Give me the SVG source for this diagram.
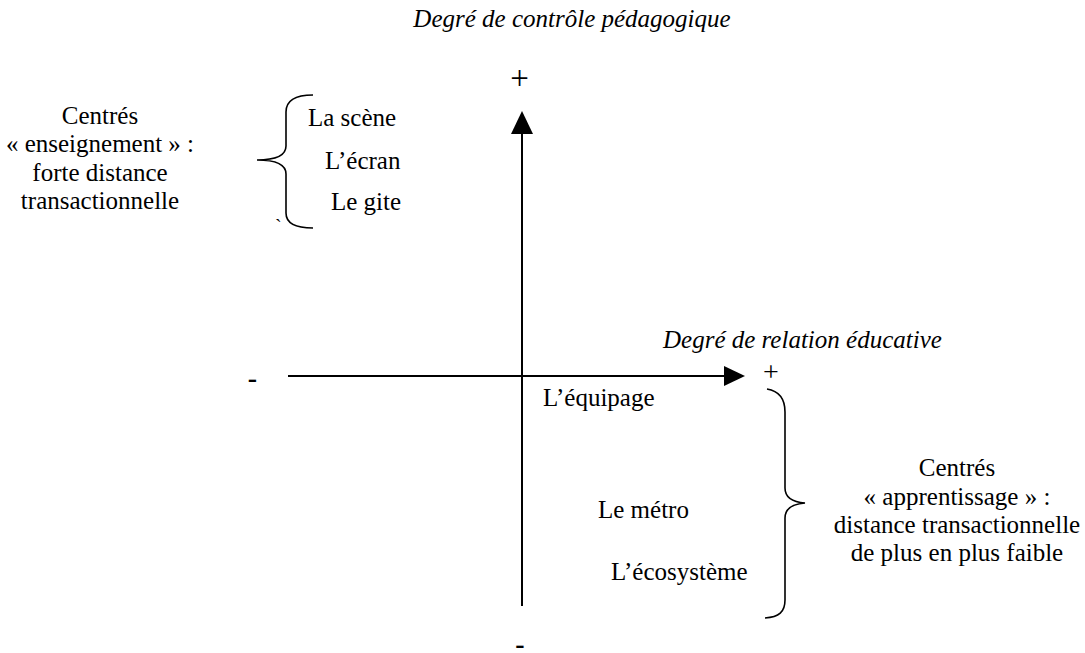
<svg xmlns="http://www.w3.org/2000/svg" width="1085" height="653" viewBox="0 0 1085 653">
<defs>
<style>
text{font-family:"Liberation Serif","Times New Roman",serif;font-size:25px;fill:#000}
.it{font-style:italic}
.c{text-anchor:middle}
.mn{font-size:28px;font-weight:bold}
.p1{font-size:33px}
.p2{font-size:28px}
.tk{font-size:20px}
.ax{stroke:#000;stroke-width:2;fill:none}
.br{stroke:#000;stroke-width:1.6;fill:none}
</style>
</defs>
<rect width="1085" height="653" fill="#fff"/>
<g id="connectors">
<line class="ax" x1="522" y1="606" x2="522" y2="130"/>
<polygon points="522,111 511,134 533,134" fill="#000"/>
<line class="ax" x1="288" y1="376" x2="726" y2="376"/>
<polygon points="745,376 724,366 724,386" fill="#000"/>
</g>
<g id="axis-labels">
<text class="it c" x="572" y="27">Degré de contrôle pédagogique</text>
<text class="it" x="663" y="348">Degré de relation éducative</text>
<text class="c p1" x="519.5" y="89">+</text>
<text class="c p2" x="771" y="380.5">+</text>
<text class="c mn" x="252.5" y="386.5">-</text>
<text class="c mn" x="520" y="653">-</text>
</g>
<g id="brace-left">
<path class="br" d="M313,95 C296,95 286,100 286,112 L286,146 C286,155 277,160 257,160 C277,160 286,165 286,174 L286,213 C286,224 296,228 313,228"/>
<text class="tk" x="275" y="234">`</text>
</g>
<g id="group-enseignement">
<text class="c" x="100" y="124">Centrés</text>
<text class="c" x="100" y="152">« enseignement » :</text>
<text class="c" x="100" y="181">forte distance</text>
<text class="c" x="100" y="209">transactionnelle</text>
</g>
<g id="node-scene"><text x="308" y="126">La scène</text></g>
<g id="node-ecran"><text x="325" y="169">L’écran</text></g>
<g id="node-gite"><text x="331" y="210">Le gite</text></g>
<g id="node-equipage"><text x="543" y="406">L’équipage</text></g>
<g id="node-metro"><text x="598" y="518">Le métro</text></g>
<g id="node-ecosysteme"><text x="611" y="580">L’écosystème</text></g>
<g id="brace-right">
<path class="br" d="M767,389 C779,391 785,399 785,412 L785,488 C785,497 792,502 805,503 C792,504 785,509 785,518 L785,600 C785,612 779,617 765,618"/>
</g>
<g id="group-apprentissage">
<text class="c" x="957" y="476">Centrés</text>
<text class="c" x="957" y="505">« apprentissage » :</text>
<text class="c" x="957" y="533">distance transactionnelle</text>
<text class="c" x="957" y="561">de plus en plus faible</text>
</g>
</svg>
